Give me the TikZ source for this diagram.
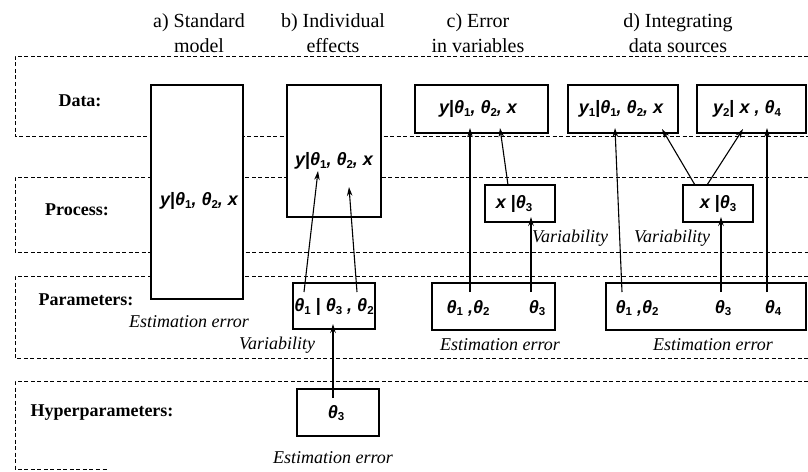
\documentclass[tikz,border=0pt]{standalone}
\usepackage{fontspec}
\setmainfont{Liberation Serif}
\newfontfamily\mfont{Liberation Sans}
\usetikzlibrary{arrows.meta,fit}
\newcommand\sbs[1]{\raisebox{-0.3ex}{\fontsize{11.5}{11.5}\selectfont\upshape #1}}
\newcommand\vbr{{\upshape|}}
\tikzset{
  band/.style={dash pattern=on 4pt off 2.5pt, line width=1pt},
  boxx/.style={draw, line width=1.6pt, fill=white, inner sep=0pt},
  arr/.style={-{Stealth[length=9pt,width=5.5pt]}, line width=1.1pt},
  lab/.style={font=\fontsize{18}{18}\selectfont\bfseries},
  note/.style={font=\fontsize{18}{18}\selectfont\itshape},
  head/.style={font=\fontsize{20}{25}\selectfont, align=center},
  mt/.style={font=\mfont\bfseries\itshape\fontsize{18}{18}\selectfont, inner sep=1pt}
}
\begin{document}
\begin{tikzpicture}[x=1pt,y=-1pt]
\useasboundingbox (0,0) rectangle (808,471);
\fill[white] (0,0) rectangle (808,471);
% bands
\draw[band] (808,56) -- (15,56) -- (15,136) -- (808,136);
\draw[band] (808,177) -- (15,177) -- (15,252) -- (808,252);
\draw[band] (808,276) -- (15,276) -- (15,358) -- (808,358);
\draw[band] (808,381) -- (15,381) -- (15,469) -- (107,469);
% headers
\node[head] (ha) at (199,33) {a) Standard\\model};
\node[head] (hb) at (333,33) {b) Individual\\effects};
\node[head] (hc) at (478,33) {c) Error\\in variables};
\node[head] (hd) at (678,33) {d) Integrating\\data sources};
% row labels
\node[lab] (ldata) at (80,101) {Data:};
\node[lab] (lproc) at (77,210) {Process:};
\node[lab] (lpar) at (86,300) {Parameters:};
\node[lab] (lhyp) at (102,413) {Hyperparameters:};
% boxes
\node[boxx, fit={(151,85) (243,299)}] (boxa) {};
\node[boxx, fit={(287,85) (381,217)}] (boxbd) {};
\node[boxx, fit={(293,283) (375,329)}] (boxbp) {};
\node[boxx, fit={(297,389) (379,436)}] (boxbh) {};
\node[boxx, fit={(415,85) (548,133)}] (boxcd) {};
\node[boxx, fit={(485,185) (555,222)}] (boxcx) {};
\node[boxx, fit={(432,283) (555,330)}] (boxcp) {};
\node[boxx, fit={(568,85) (678,133)}] (boxdy1) {};
\node[boxx, fit={(697,85) (806,133)}] (boxdy2) {};
\node[boxx, fit={(683,185) (753,222)}] (boxdx) {};
\node[boxx, fit={(606,283) (806,330)}] (boxdp) {};
% math texts
\node[mt] (ta) at (199,201) {y\vbr θ\sbs{1}, θ\sbs{2}, x};
\node[mt] (tbd) at (334,161) {y\vbr θ\sbs{1}, θ\sbs{2}, x};
\node[mt] (tbp) at (334,307) {θ\sbs{1} \vbr{} θ\sbs{3} , θ\sbs{2}};
\node[mt] (tbh) at (336,413) {θ\sbs{3}};
\node[mt] (tcd) at (478,109) {y\vbr θ\sbs{1}, θ\sbs{2}, x};
\node[mt] (tcx) at (514,204) {x \vbr θ\sbs{3}};
\node[mt] (tcp1) at (468,308) {θ\sbs{1} ,θ\sbs{2}};
\node[mt] (tcp2) at (537,308) {θ\sbs{3}};
\node[mt] (tdy1) at (621,109) {y\sbs{1}\vbr θ\sbs{1}, θ\sbs{2}, x};
\node[mt] (tdy2) at (747,109) {y\sbs{2}\vbr{} x , θ\sbs{4}};
\node[mt] (tdx) at (718,204) {x \vbr θ\sbs{3}};
\node[mt] (tdp1) at (637,308) {θ\sbs{1} ,θ\sbs{2}};
\node[mt] (tdp2) at (723,308) {θ\sbs{3}};
\node[mt] (tdp3) at (773,308) {θ\sbs{4}};
% notes
\node[note] (ea) at (189,322) {Estimation error};
\node[note] (vb) at (277,345) {Variability};
\node[note] (eb) at (333,458) {Estimation error};
\node[note] (ec) at (500,345) {Estimation error};
\node[note] (ed) at (713,345) {Estimation error};
\node[note] (vc) at (570,238) {Variability};
\node[note] (vd) at (672,238) {Variability};
% arrow end points
\coordinate (b1s) at (304,292); \coordinate (b1e) at (318,171);
\coordinate (b2s) at (357,292); \coordinate (b2e) at (349,187);
\coordinate (b3s) at (333,398); \coordinate (b3e) at (333,324);
\coordinate (c1s) at (470,292); \coordinate (c1e) at (470,128);
\coordinate (c2s) at (531,292); \coordinate (c2e) at (531,217);
\coordinate (c3s) at (508,185); \coordinate (c3e) at (500,128);
\coordinate (d1s) at (622,292); \coordinate (d1e) at (615,128);
\coordinate (d2s) at (695,185); \coordinate (d2e) at (662,129);
\coordinate (d3s) at (707,185); \coordinate (d3e) at (743,129);
\coordinate (d4s) at (721,292); \coordinate (d4e) at (721,217);
\coordinate (d5s) at (767,292); \coordinate (d5e) at (767,128);
\foreach \a in {b1,b2,b3,c1,c2,c3,d1,d2,d3,d4,d5}
  \draw[arr] (\a s) -- (\a e);
\end{tikzpicture}
\end{document}
